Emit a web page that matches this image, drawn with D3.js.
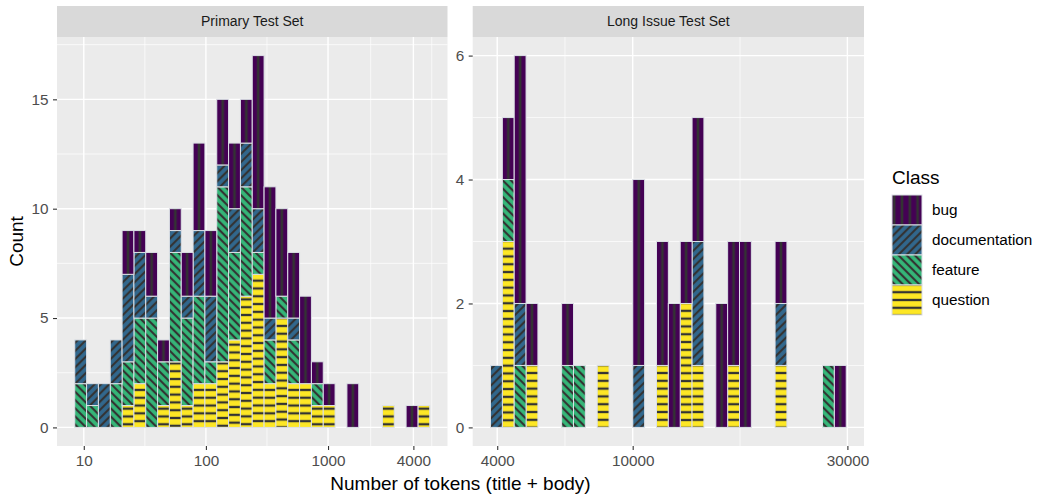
<!DOCTYPE html>
<html>
<head>
<meta charset="utf-8">
<script src="https://cdn.jsdelivr.net/npm/d3@7"></script>
<style>
body{margin:0;background:#fff;}
text{font-family:"Liberation Sans",Arial,Helvetica,sans-serif;}
</style>
</head>
<body>
<script>
// classes, bottom of the stack last
var classes = ["bug","documentation","feature","question"];
var classColors = ["#440154","#31688E","#35B779","#FDE725"];

// Primary Test Set: counts per log bin (30 bins)
var p1Bug      = [0,0,0,0,2,1,2,1,1,2,4,3,3,3,2,7,6,4,3,4,1,1,0,2,0,0,0,0,1,0];
var p1Doc      = [2,1,2,2,4,3,1,0,1,1,3,3,1,2,2,2,1,0,1,0,0,0,0,0,0,0,0,0,0,0];
var p1Feature  = [2,1,0,2,2,3,5,2,5,4,4,1,8,4,5,1,2,1,2,0,1,0,0,0,0,0,0,0,0,0];
var p1Question = [0,0,0,0,1,2,0,1,3,1,2,2,3,4,6,7,2,5,2,2,1,1,0,0,0,0,1,0,0,1];

// Long Issue Test Set
var p2Bug      = [0,1,4,1,0,0,1,0,0,0,0,0,3,0,2,2,1,2,0,2,2,3,0,0,1,0,0,0,0,1];
var p2Doc      = [1,0,1,0,0,0,0,0,0,0,0,0,1,0,0,0,0,2,0,0,0,0,0,0,1,0,0,0,0,0];
var p2Feature  = [0,1,1,0,0,0,1,1,0,0,0,0,0,0,0,0,0,0,0,0,0,0,0,0,0,0,0,0,1,0];
var p2Question = [0,3,0,1,0,0,0,0,0,1,0,0,0,0,1,0,2,1,0,0,1,0,0,0,1,0,0,0,0,0];

// x breaks (log10 scale) and their labels
var xBreaks = [10,100,1000,5000,10000,30000];
var xLabels = ["10","100","1000","4000","10000","30000"];

var width = 1042,
    height = 497,
    plotTop = 37,
    plotBottom = 446,
    tickFont = 15.3,
    titleFont = 19;

var panels = [
    {title:"Primary Test Set", lo:0.926, bw:0.0969, x0:57, x1:447.5,
     yBreaks:[0,5,10,15], series:[p1Bug,p1Doc,p1Feature,p1Question]},
    {title:"Long Issue Test Set", lo:3.684, bw:0.02635, x0:472.7, x1:864,
     yBreaks:[0,2,4,6], series:[p2Bug,p2Doc,p2Feature,p2Question]}
];

// stripe look per class: angle, spacing, stripe thickness
var stripes = {
    "bug":{angle:0, s:7.8, t:2.6},
    "documentation":{angle:45, s:5.8, t:2.2},
    "feature":{angle:-45, s:5.8, t:2.2},
    "question":{angle:90, s:7.8, t:2.3}
};

var color = d3.scaleOrdinal().domain(classes).range(classColors);

var svg = d3.select("body").append("svg")
    .attr("width",width)
    .attr("height",height);

var defs = svg.append("defs");
var patId = 0;

function stripeFill(cls, cx, cy){
    var p = stripes[cls];
    var id = "pat"+(patId++);
    var pat = defs.append("pattern")
	.attr("id",id)
	.attr("patternUnits","userSpaceOnUse")
	.attr("width",p.s)
	.attr("height",p.s)
	.attr("patternTransform","translate("+cx+","+cy+") rotate("+p.angle+") translate("+(-p.s/2)+",0)");
    pat.append("rect").attr("width",p.s).attr("height",p.s).attr("fill",color(cls));
    pat.append("rect").attr("x",p.s/2-p.t/2).attr("width",p.t).attr("height",p.s).attr("fill","#333333");
    return "url(#"+id+")";
}

panels.forEach(function(P){
    var n = P.series[0].length;
    var hi = P.lo + n*P.bw;
    var ex = (hi-P.lo)*0.05;
    var x = d3.scaleLog()
	.domain([Math.pow(10,P.lo-ex),Math.pow(10,hi+ex)])
	.range([P.x0,P.x1]);

    // stacked totals
    var rows = d3.range(n).map(function(i){
	var r = {bin:i};
	classes.forEach(function(c,k){ r[c] = P.series[k][i]; });
	return r;
    });
    var stack = d3.stack().keys(classes.slice().reverse())(rows);
    var ymax = d3.max(rows, function(r){ return d3.sum(classes, function(c){return r[c];}); });
    var y = d3.scaleLinear()
	.domain([-ymax*0.05, ymax*1.05])
	.range([plotBottom, plotTop]);

    var g = svg.append("g");

    // panel + strip
    g.append("rect").attr("x",P.x0).attr("y",plotTop).attr("width",P.x1-P.x0).attr("height",plotBottom-plotTop).attr("fill","#EBEBEB");
    g.append("rect").attr("x",P.x0).attr("y",6).attr("width",P.x1-P.x0).attr("height",plotTop-6).attr("fill","#D9D9D9");
    g.append("text")
	.attr("x",(P.x0+P.x1)/2)
	.attr("y",(6+plotTop)/2)
	.attr("dy","0.35em")
	.attr("text-anchor","middle")
	.attr("font-size",14)
	.attr("fill","#1A1A1A")
	.text(P.title);

    // minor grid: midpoints (in log space) of neighbouring breaks
    var lb = xBreaks.map(function(b){return Math.log10(b);});
    var xMinor = [];
    for(var i=0;i<lb.length-1;i++){ xMinor.push(Math.pow(10,(lb[i]+lb[i+1])/2)); }
    var dom = x.domain();
    xMinor = xMinor.filter(function(v){return v>=dom[0] && v<=dom[1];});
    var yStep = P.yBreaks[1]-P.yBreaks[0];
    var yMinor = P.yBreaks.map(function(b){return b+yStep/2;}).filter(function(v){return v<=y.domain()[1];});
    var xMajor = xBreaks.map(function(b,i){return {v:b,l:xLabels[i]};}).filter(function(d){return d.v>=dom[0] && d.v<=dom[1];});

    g.selectAll(".xminor").data(xMinor).enter().append("line")
	.attr("x1",function(d){return x(d);}).attr("x2",function(d){return x(d);})
	.attr("y1",plotTop).attr("y2",plotBottom).attr("stroke","#fff").attr("stroke-width",0.7);
    g.selectAll(".yminor").data(yMinor).enter().append("line")
	.attr("x1",P.x0).attr("x2",P.x1)
	.attr("y1",function(d){return y(d);}).attr("y2",function(d){return y(d);})
	.attr("stroke","#fff").attr("stroke-width",0.7);
    g.selectAll(".xmajor").data(xMajor).enter().append("line")
	.attr("x1",function(d){return x(d.v);}).attr("x2",function(d){return x(d.v);})
	.attr("y1",plotTop).attr("y2",plotBottom).attr("stroke","#fff").attr("stroke-width",1.4);
    g.selectAll(".ymajor").data(P.yBreaks).enter().append("line")
	.attr("x1",P.x0).attr("x2",P.x1)
	.attr("y1",function(d){return y(d);}).attr("y2",function(d){return y(d);})
	.attr("stroke","#fff").attr("stroke-width",1.4);

    // bars
    stack.forEach(function(layer){
	var cls = layer.key;
	layer.forEach(function(d,i){
	    if(d[1]-d[0] <= 0) return;
	    var xa = x(Math.pow(10,P.lo+i*P.bw)),
		xb = x(Math.pow(10,P.lo+(i+1)*P.bw)),
		ya = y(d[1]),
		yb = y(d[0]);
	    g.append("rect")
		.attr("x",xa).attr("y",ya)
		.attr("width",xb-xa).attr("height",yb-ya)
		.attr("fill",stripeFill(cls,(xa+xb)/2,(ya+yb)/2))
		.attr("stroke","#DCE0E6")
		.attr("stroke-width",1);
	});
    });

    // axes
    var xa = g.append("g").attr("transform","translate(0,"+plotBottom+")")
	.call(d3.axisBottom(x).tickValues(xMajor.map(function(d){return d.v;}))
	      .tickFormat(function(v){return xLabels[xBreaks.indexOf(v)];})
	      .tickSize(4).tickPadding(5.5));
    var ya = g.append("g").attr("transform","translate("+P.x0+",0)")
	.call(d3.axisLeft(y).tickValues(P.yBreaks).tickFormat(d3.format("d")).tickSize(4).tickPadding(4.5));
    [xa,ya].forEach(function(a){
	a.select(".domain").remove();
	a.selectAll(".tick line").attr("stroke","#333333").attr("stroke-width",1.1);
	a.selectAll(".tick text").attr("fill","#4D4D4D").attr("font-size",tickFont)
	    .attr("font-family","'Liberation Sans',Arial,sans-serif");
    });
});

// axis titles
svg.append("text")
    .attr("x",(57+864)/2)
    .attr("y",490)
    .attr("text-anchor","middle")
    .attr("font-size",titleFont)
    .text("Number of tokens (title + body)");
svg.append("text")
    .attr("transform","translate(23,"+((plotTop+plotBottom)/2)+") rotate(-90)")
    .attr("text-anchor","middle")
    .attr("font-size",titleFont)
    .text("Count");

// legend
var legend = svg.append("g").attr("transform","translate(892,0)");
legend.append("text").attr("x",0).attr("y",184).attr("font-size",titleFont).text("Class");
classes.forEach(function(c,i){
    var ky = 195+i*30;
    legend.append("rect")
	.attr("x",0).attr("y",ky)
	.attr("width",30).attr("height",30)
	.attr("fill",stripeFill(c,892+15,ky+15))
	.attr("stroke","#DCE0E6")
	.attr("stroke-width",1);
    legend.append("text")
	.attr("x",40).attr("y",ky+15)
	.attr("dy","0.35em")
	.attr("font-size",tickFont)
	.text(c);
});
</script>
</body>
</html>
